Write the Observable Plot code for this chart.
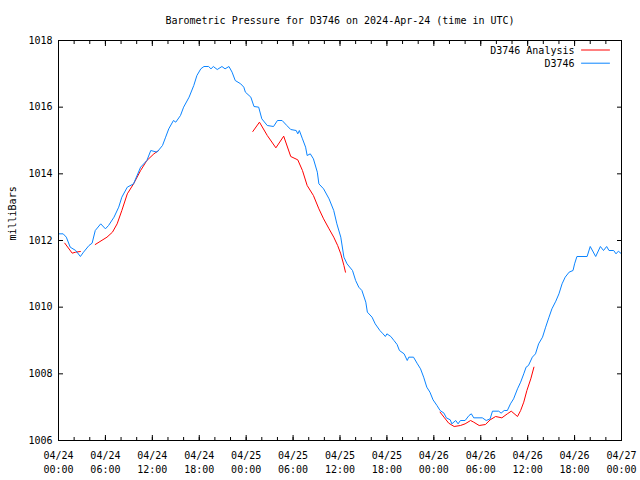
<!DOCTYPE html>
<html><head><meta charset="utf-8">
<script src="https://cdn.jsdelivr.net/npm/d3@7"></script>
<script src="https://cdn.jsdelivr.net/npm/@observablehq/plot@0.6"></script>
<style>body{margin:0;background:#fff}</style>
</head><body><div id="chart"></div>
<script>
const startTime = "2024-04-24T00:00:00Z";
const titleText = "Barometric Pressure for D3746 on 2024-Apr-24 (time in UTC)";
const yLabel = "milliBars";
const seriesNames = ["D3746 Analysis", "D3746"];
const seriesColors = ["#ff0000", "#0a84ff"];
const yTicks = [1006, 1008, 1010, 1012, 1014, 1016, 1018];
const xMajorHours = [0, 6, 12, 18, 24, 30, 36, 42, 48, 54, 60, 66, 72];
const xMinorHours = d3.range(0, 73, 2);

// D3746 station observations (hours since start, mb)
const stationHours = [0.0,0.6,1.0,1.5,2.2,2.8,3.2,3.9,4.3,4.7,5.4,6.0,6.4,7.1,7.7,8.1,8.8,9.6,10.5,11.3,11.8,12.6,13.3,13.7,14.1,14.7,15.0,15.6,16.0,16.7,17.3,17.7,18.2,18.6,19.2,19.5,19.8,20.3,20.9,21.3,21.8,22.2,22.6,23.3,23.7,23.9,24.6,25.0,25.6,26.0,26.7,27.5,28.0,28.6,29.2,29.7,30.4,30.6,30.8,31.2,31.6,31.8,32.2,32.6,33.1,33.3,33.9,34.6,35.2,35.6,36.1,36.5,36.9,37.6,38.0,38.4,38.8,39.3,39.5,40.1,40.5,41.1,41.5,41.8,42.0,42.5,42.9,43.3,43.6,44.2,44.6,44.8,45.4,45.9,46.3,46.7,47.1,47.5,47.9,48.4,48.8,49.3,49.6,50.1,50.3,50.8,51.1,51.4,52.0,52.5,52.8,53.1,54.2,54.7,55.2,55.5,56.3,56.6,57.0,57.4,57.8,58.2,58.7,59.1,59.5,59.8,60.1,60.6,61.0,61.4,61.9,62.3,62.7,63.1,63.6,64.0,64.4,64.8,65.3,65.8,66.0,66.3,67.6,68.0,68.7,69.3,69.7,70.1,70.4,71.0,71.3,71.6,72.0];
const stationValues = [1012.2,1012.2,1012.1,1011.8,1011.7,1011.52,1011.65,1011.85,1011.92,1012.3,1012.5,1012.35,1012.45,1012.7,1013.0,1013.3,1013.6,1013.7,1014.2,1014.4,1014.7,1014.65,1014.85,1015.1,1015.35,1015.6,1015.55,1015.75,1016.0,1016.3,1016.65,1016.95,1017.15,1017.22,1017.22,1017.15,1017.22,1017.13,1017.22,1017.15,1017.22,1017.05,1016.8,1016.7,1016.6,1016.45,1016.3,1016.02,1016.0,1015.65,1015.45,1015.42,1015.6,1015.6,1015.45,1015.33,1015.3,1015.2,1015.3,1015.05,1014.8,1014.55,1014.6,1014.45,1014.05,1013.7,1013.55,1013.25,1012.9,1012.5,1012.1,1011.5,1011.3,1011.1,1010.8,1010.6,1010.5,1010.15,1009.85,1009.7,1009.5,1009.3,1009.2,1009.12,1009.2,1009.12,1009.0,1008.88,1008.7,1008.6,1008.4,1008.5,1008.5,1008.3,1008.15,1007.9,1007.6,1007.45,1007.22,1007.05,1006.9,1006.82,1006.68,1006.62,1006.5,1006.6,1006.5,1006.6,1006.6,1006.75,1006.8,1006.68,1006.68,1006.6,1006.65,1006.88,1006.88,1006.82,1006.9,1006.9,1007.1,1007.25,1007.55,1007.75,1008.0,1008.2,1008.25,1008.5,1008.6,1008.9,1009.1,1009.4,1009.68,1009.95,1010.18,1010.4,1010.7,1010.9,1011.05,1011.1,1011.3,1011.52,1011.52,1011.82,1011.52,1011.82,1011.7,1011.82,1011.7,1011.7,1011.6,1011.68,1011.6];

// D3746 Analysis (null = gap between segments)
const analysisHours = [0.8,1.75,2.2,2.8,null,4.7,6.2,6.9,7.5,8.1,8.8,9.6,10.5,11.3,12.2,12.8,null,24.85,25.7,26.7,27.8,28.8,29.7,30.6,31.2,31.8,32.6,33.3,33.9,34.6,35.2,35.7,36.1,36.5,36.7,null,48.8,49.3,49.9,50.6,51.4,52.0,52.7,53.1,53.8,54.6,55.2,55.9,56.7,57.4,57.9,58.7,59.1,59.5,59.9,60.4,60.8];
const analysisValues = [1011.92,1011.62,1011.65,1011.67,null,1011.88,1012.1,1012.25,1012.5,1012.9,1013.4,1013.7,1014.1,1014.4,1014.6,1014.7,null,1015.27,1015.55,1015.15,1014.78,1015.13,1014.52,1014.42,1014.1,1013.65,1013.35,1012.95,1012.65,1012.35,1012.1,1011.85,1011.6,1011.25,1011.05,null,1006.85,1006.7,1006.52,1006.42,1006.45,1006.5,1006.6,1006.55,1006.45,1006.48,1006.62,1006.72,1006.68,1006.8,1006.88,1006.72,1006.9,1007.15,1007.5,1007.85,1008.2];

const t0 = new Date(startTime);
const toDate = h => (h == null ? null : new Date(+t0 + h * 3600e3));
const station = stationHours.map((h, i) => ({t: toDate(h), v: stationValues[i]}));
const analysis = analysisHours.map((h, i) => ({t: toDate(h), v: analysisValues[i] == null ? NaN : analysisValues[i]}));
const majorTicks = xMajorHours.map(toDate);
const minorTicks = xMinorHours.map(toDate);
const fmt = d3.utcFormat("%m/%d\n%H:%M");
const font = "DejaVu Sans Mono";
const fs = 10;
const lineShape = {draw(context, l) { context.moveTo(0, 0); context.lineTo(0, -l); }};

function legendEntry(i, dy) {
  return [
    Plot.text([seriesNames[i]], {text: d => d, frameAnchor: "top-right", textAnchor: "end", dx: -47, dy: dy + 0.8, lineAnchor: "middle", fontSize: fs}),
    Plot.vector([seriesNames[i]], {frameAnchor: "top-right", dx: -40, dy: dy, length: 28, rotate: 90, anchor: "start", shape: lineShape, stroke: seriesColors[i], strokeWidth: 1})
  ];
}

const chart = Plot.plot({
  width: 640,
  height: 480,
  marginLeft: 58,
  marginRight: 19,
  marginTop: 40,
  marginBottom: 40,
  style: {fontFamily: font, fontSize: fs + "px", background: "#fff", color: "#000"},
  x: {type: "utc", domain: [toDate(0), toDate(72)]},
  y: {domain: [1006, 1018]},
  marks: [
    Plot.axisY({anchor: "left", ticks: yTicks, tickSize: -5, tickPadding: 11, tickFormat: d => String(d), label: null, fontSize: fs}),
    Plot.axisY({anchor: "right", ticks: yTicks, tickSize: -5, tickFormat: () => "", label: null}),
    Plot.axisX({anchor: "bottom", ticks: majorTicks, tickSize: -5, tickPadding: 14, tickFormat: fmt, lineHeight: 1.4, label: null, fontSize: fs}),
    Plot.axisX({anchor: "bottom", ticks: minorTicks, tickSize: -3, tickFormat: () => "", label: null}),
    Plot.axisX({anchor: "top", ticks: majorTicks, tickSize: -5, tickFormat: () => "", label: null}),
    Plot.axisX({anchor: "top", ticks: minorTicks, tickSize: -3, tickFormat: () => "", label: null}),
    Plot.line(analysis, {x: "t", y: "v", stroke: seriesColors[0], strokeWidth: 1}),
    Plot.line(station, {x: "t", y: "v", stroke: seriesColors[1], strokeWidth: 1}),
    Plot.frame({stroke: "#000"}),
    Plot.text([titleText], {text: d => d, frameAnchor: "top", dy: -20, lineAnchor: "middle", fontSize: fs}),
    Plot.text([yLabel], {text: d => d, frameAnchor: "left", rotate: -90, dx: -46, lineAnchor: "middle", fontSize: fs}),
    ...legendEntry(0, 9.5),
    ...legendEntry(1, 22.7)
  ]
});
document.getElementById("chart").append(chart);
</script>
</body></html>
